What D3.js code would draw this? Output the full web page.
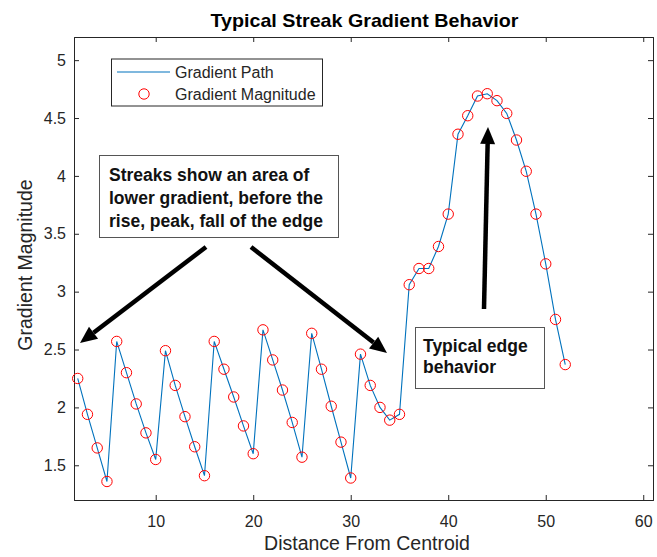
<!DOCTYPE html>
<html><head><meta charset="utf-8">
<script src="https://cdn.jsdelivr.net/npm/d3@7"></script>
<style>body{margin:0;background:#fff}svg{display:block}text{font-family:"Liberation Sans",Arial,sans-serif}</style>
</head><body>
<script>
const distance = [2,3,4,5,6,7,8,9,10,11,12,13,14,15,16,17,18,19,20,21,22,23,24,25,26,27,28,29,30,31,32,33,34,35,36,37,38,39,40,41,42,43,44,45,46,47,48,49,50,51,52];
const magnitude = [2.25,1.94,1.65,1.36,2.57,2.30,2.03,1.78,1.55,2.49,2.19,1.92,1.66,1.41,2.57,2.33,2.09,1.84,1.60,2.67,2.41,2.15,1.87,1.57,2.64,2.33,2.01,1.70,1.39,2.46,2.19,2.00,1.89,1.94,3.06,3.20,3.20,3.39,3.67,4.36,4.52,4.69,4.71,4.65,4.54,4.31,4.04,3.67,3.24,2.76,2.37];
const xTicks = [10,20,30,40,50,60];
const yTicks = [1.5,2,2.5,3,3.5,4,4.5,5];
const legendLabels = ["Gradient Path","Gradient Magnitude"];
const title = "Typical Streak Gradient Behavior";
const xLabel = "Distance From Centroid";
const yLabel = "Gradient Magnitude";
const note1 = ["Streaks show an area of","lower gradient, before the","rise, peak, fall of the edge"];
const note2 = ["Typical edge","behavior"];

const W = 657, H = 557;
const L = 74, R = 653, T = 37, B = 500;
const axCol = "#262626";
const svg = d3.select("body").append("svg").attr("width", W).attr("height", H);

const x = d3.scaleLinear().domain([1.62, 61]).range([L, R]);
const y = d3.scaleLinear().domain([1.2, 5.2]).range([B, T]);

// axes
const fmt = d => String(d);
const gx = svg.append("g").attr("transform", `translate(0,${B})`)
  .call(d3.axisBottom(x).tickValues(xTicks).tickSize(-5).tickPadding(16).tickFormat(fmt));
const gxt = svg.append("g").attr("transform", `translate(0,${T})`)
  .call(d3.axisTop(x).tickValues(xTicks).tickSize(-5).tickFormat(""));
const gy = svg.append("g").attr("transform", `translate(${L},0)`)
  .call(d3.axisLeft(y).tickValues(yTicks).tickSize(-5).tickPadding(8).tickFormat(fmt));
const gyr = svg.append("g").attr("transform", `translate(${R},0)`)
  .call(d3.axisRight(y).tickValues(yTicks).tickSize(-5).tickFormat(""));
[gx, gxt, gy, gyr].forEach(g => {
  g.select(".domain").attr("stroke", axCol).attr("stroke-width", 1);
  g.selectAll(".tick line").attr("stroke", axCol);
  g.selectAll(".tick text").attr("fill", axCol).style("font-size", "16px");
});

// line + markers
const line = d3.line().x((d, i) => x(distance[i])).y(d => y(d));
svg.append("path").datum(magnitude).attr("d", line)
  .attr("fill", "none").attr("stroke", "#0072BD").attr("stroke-width", 1.1);
svg.append("g").selectAll("circle").data(magnitude).join("circle")
  .attr("cx", (d, i) => x(distance[i])).attr("cy", d => y(d)).attr("r", 5.2)
  .attr("fill", "none").attr("stroke", "#ff0000").attr("stroke-width", 1);

// title & labels
svg.append("text").attr("x", 364.5).attr("y", 26.5).attr("text-anchor", "middle")
  .attr("textLength", 308).attr("lengthAdjust", "spacingAndGlyphs")
  .style("font-size", "19px").style("font-weight", "bold").attr("fill", "#000").text(title);
svg.append("text").attr("x", 367).attr("y", 550).attr("text-anchor", "middle")
  .style("font-size", "19.5px").attr("fill", axCol).text(xLabel);
svg.append("text").attr("transform", "translate(32,265) rotate(-90)").attr("text-anchor", "middle")
  .style("font-size", "19.5px").attr("fill", axCol).text(yLabel);

// legend
const lg = svg.append("g");
lg.append("rect").attr("x", 111.5).attr("y", 59).attr("width", 211).attr("height", 47)
  .attr("fill", "#fff").attr("stroke", axCol).attr("stroke-width", 1);
lg.append("line").attr("x1", 117).attr("x2", 170).attr("y1", 72).attr("y2", 72)
  .attr("stroke", "#0072BD").attr("stroke-width", 1.1);
lg.append("circle").attr("cx", 144).attr("cy", 94).attr("r", 5.2)
  .attr("fill", "none").attr("stroke", "#ff0000");
legendLabels.forEach((t, i) => lg.append("text").attr("x", 175).attr("y", 77.5 + i * 22.5)
  .style("font-size", "16px").attr("fill", axCol).text(t));

// annotation boxes
function noteBox(x0, y0, w, h, lines, tx, ty, lh, fs) {
  svg.append("rect").attr("x", x0).attr("y", y0).attr("width", w).attr("height", h)
    .attr("fill", "#fff").attr("stroke", "#555").attr("stroke-width", 1);
  lines.forEach((t, i) => svg.append("text").attr("x", tx).attr("y", ty + i * lh)
    .style("font-size", fs + "px").style("font-weight", "bold").attr("fill", "#111").text(t));
}
noteBox(99.5, 155.5, 239, 82, note1, 109, 180.5, 23, 17.5);
noteBox(415.5, 327.5, 129, 61, note2, 423, 352, 21, 17.5);

// arrows
function arrow(x1, y1, x2, y2) {
  const dx = x2 - x1, dy = y2 - y1, len = Math.hypot(dx, dy);
  const ux = dx / len, uy = dy / len, hl = 17, hw = 7.5;
  const bx = x2 - ux * hl, by = y2 - uy * hl;
  svg.append("line").attr("x1", x1).attr("y1", y1).attr("x2", bx).attr("y2", by)
    .attr("stroke", "#000").attr("stroke-width", 4.5);
  svg.append("polygon").attr("points",
    `${x2},${y2} ${bx - uy * hw},${by + ux * hw} ${bx + uy * hw},${by - ux * hw}`).attr("fill", "#000");
}
arrow(206, 247, 80, 343);
arrow(251, 247, 387, 353);
arrow(484, 309, 488, 127);
</script>
</body></html>
